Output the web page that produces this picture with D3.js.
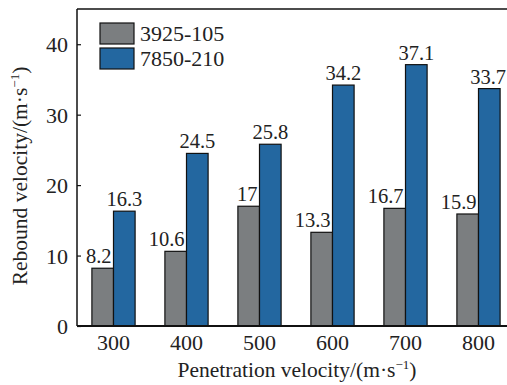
<!DOCTYPE html>
<html>
<head>
<meta charset="utf-8">
<script src="https://cdn.jsdelivr.net/npm/d3@7"></script>
<style>
  html, body { margin: 0; padding: 0; background: #fff; }
  svg { display: block; }
  svg text { font-family: "Liberation Serif", "Times New Roman", Tinos, "DejaVu Serif", serif !important; fill: #222; }
</style>
</head>
<body>
<svg id="chart" width="507" height="385"></svg>
<script>
// Penetration velocities (m/s) on the x axis
const categories = ["300", "400", "500", "600", "700", "800"];
// Rebound velocities (m/s) for the two projectile configurations
const seriesNames = ["3925-105", "7850-210"];
const values3925 = [8.2, 10.6, 17, 13.3, 16.7, 15.9];
const values7850 = [16.3, 24.5, 25.8, 34.2, 37.1, 33.7];
const yTicks = [0, 10, 20, 30, 40];
const colors = ["#7b7e80", "#2367a0"];

const W = 507;
const svg = d3.select("#chart");
const margin = { left: 77, top: 9, right: 515, bottom: 326 };

const x = d3.scaleBand().domain(categories).range([margin.left, margin.right]).paddingInner(0).paddingOuter(0);
const xSub = d3.scaleBand().domain(seriesNames).range([-21.6, 21.6]);
const y = d3.scaleLinear().domain([0, 45]).range([margin.bottom, margin.top]);

const data = categories.map((c, i) => ({ cat: c, vals: [values3925[i], values7850[i]] }));

// Bars
const groups = svg.append("g").selectAll("g").data(data).join("g")
  .attr("transform", d => `translate(${x(d.cat) + x.bandwidth() / 2},0)`);

const barData = d => d.vals.map((v, j) => ({ v, name: seriesNames[j], j, gx: x(d.cat) + x.bandwidth() / 2 }));

groups.selectAll("rect").data(barData)
  .join("rect")
  .attr("x", d => xSub(d.name))
  .attr("width", xSub.bandwidth())
  .attr("y", d => y(d.v))
  .attr("height", d => y(0) - y(d.v))
  .attr("fill", d => colors[d.j])
  .attr("stroke", "#111")
  .attr("stroke-width", 1.2);

// Value labels above bars; grey-bar labels are kept clear of the neighbouring
// blue bar, and the last label is kept inside the canvas
groups.selectAll("text.val").data(barData)
  .join("text")
  .attr("class", "val")
  .attr("y", d => y(d.v) - 5)
  .attr("text-anchor", "middle")
  .attr("font-size", 20.5)
  .text(d => d.v)
  .attr("x", function (d) {
    const len = this.getComputedTextLength();
    const center = xSub(d.name) + xSub.bandwidth() / 2;
    if (d.j === 0) {
      return Math.min(center, xSub(d.name) + xSub.bandwidth() - 2 - len / 2);
    }
    return Math.min(center, W - 1 - d.gx - len / 2);
  });

// Frame: top line
svg.append("line")
  .attr("x1", margin.left).attr("x2", margin.right)
  .attr("y1", margin.top).attr("y2", margin.top)
  .attr("stroke", "#111").attr("stroke-width", 1.5);

// Y axis (ticks pointing inward)
const yAxis = d3.axisRight(y).tickValues(yTicks).tickSize(4).tickFormat(d3.format("d"));
const gy = svg.append("g").attr("transform", `translate(${margin.left},0)`).call(yAxis);
gy.attr("font-family", null);
gy.select(".domain").attr("stroke", "#111").attr("stroke-width", 1.5)
  .attr("d", `M0,${margin.bottom}V${margin.top}`);
gy.selectAll(".tick line").attr("stroke", "#111").attr("stroke-width", 1.2);
gy.selectAll(".tick text")
  .attr("x", -9).attr("dy", "0.35em")
  .attr("text-anchor", "end")
  .attr("font-size", 22)
  .attr("fill", "#222");

// X axis
const xAxis = d3.axisBottom(x).tickSize(0);
const gx = svg.append("g").attr("transform", `translate(0,${margin.bottom})`).call(xAxis);
gx.attr("font-family", null);
gx.select(".domain").attr("stroke", "#111").attr("stroke-width", 2.2)
  .attr("d", `M${margin.left},0H${margin.right}`);
gx.selectAll(".tick text")
  .attr("y", 8).attr("dy", "0.71em")
  .attr("font-size", 22)
  .attr("fill", "#222");

// Axis titles
const xt = svg.append("text")
  .attr("x", 297).attr("y", 377)
  .attr("text-anchor", "middle")
  .attr("font-size", 21.5);
xt.append("tspan").text("Penetration velocity/(m·s");
xt.append("tspan").attr("dy", -8).attr("font-size", 13).text("−1");
xt.append("tspan").attr("dy", 8).text(")");

const yt = svg.append("text")
  .attr("transform", "translate(27,176) rotate(-90)")
  .attr("text-anchor", "middle")
  .attr("font-size", 21.5);
yt.append("tspan").text("Rebound velocity/(m·s");
yt.append("tspan").attr("dy", -8).attr("font-size", 13).text("−1");
yt.append("tspan").attr("dy", 8).text(")");

// Legend
const legend = svg.append("g").attr("transform", "translate(100,23)");
seriesNames.forEach((name, i) => {
  const row = legend.append("g").attr("transform", `translate(0,${i * 25})`);
  row.append("rect").attr("width", 34).attr("height", 21)
    .attr("fill", colors[i]).attr("stroke", "#111").attr("stroke-width", 1.2);
  row.append("text").attr("x", 40).attr("y", 18).attr("font-size", 22).text(name);
});
</script>
</body>
</html>
